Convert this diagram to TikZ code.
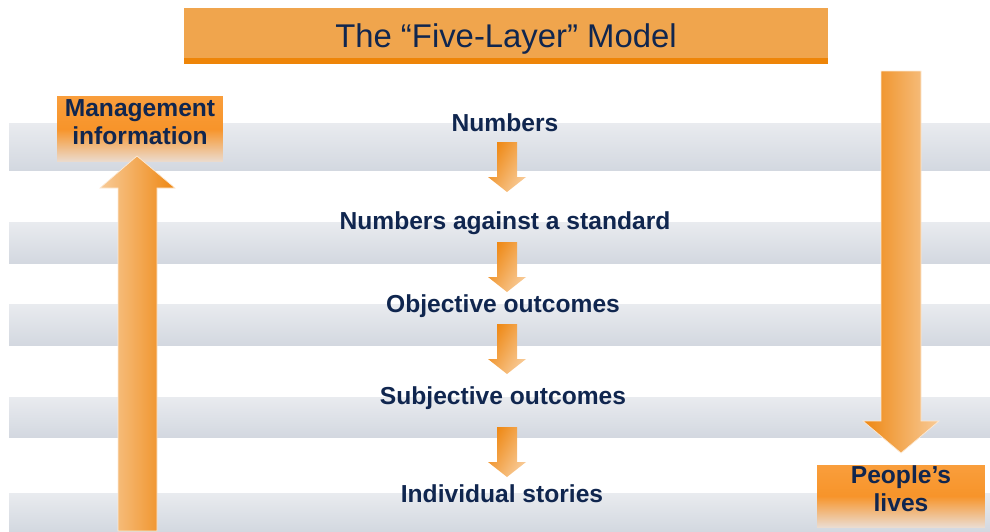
\documentclass[tikz,border=0pt]{standalone}
\usepackage{fontspec}
\setmainfont{Liberation Sans}
\usetikzlibrary{calc}
\definecolor{navy}{HTML}{10264F}
\definecolor{bandtop}{HTML}{E9EBEF}
\definecolor{bandbot}{HTML}{D3D8E0}
\definecolor{titlefill}{HTML}{F0A54D}
\definecolor{titleline}{HTML}{EE8508}
\definecolor{arrowdark}{HTML}{EE8712}
\definecolor{arrowlight}{HTML}{F8CB98}
\definecolor{boxtop}{HTML}{F99E3C}
\definecolor{boxmid}{HTML}{F7942A}
\definecolor{boxpale}{HTML}{EBDCD0}

\begin{document}
\begin{tikzpicture}[x=0.02cm,y=-0.02cm,
  band/.style={top color=bandtop,bottom color=bandbot},
  titlebar/.style={fill=titlefill,minimum width=12.88cm,minimum height=1cm,inner sep=0pt},
  titletext/.style={font=\fontsize{18.7}{22}\selectfont,text=navy,anchor=base,inner sep=0pt},
  layer/.style={font=\fontsize{14}{16}\selectfont\bfseries,text=navy,anchor=base,inner sep=0pt},
  infobox/.style={top color=boxtop,bottom color=boxpale,middle color=boxmid,inner sep=0pt},
  boxtext/.style={font=\fontsize{14}{16}\selectfont\bfseries,text=navy,align=center,inner sep=0pt},
  bigarrow/.style={draw=white!60!arrowlight,line width=0.4pt},
  layer arrow/.pic={
    \shade[top color=arrowdark,bottom color=arrowlight,shading angle=60]
      (-10,0) -- (10,0) -- (10,35) -- (19,35) -- (0,50) -- (-19,35) -- (-10,35) -- cycle;}]

  \useasboundingbox (0,0) rectangle (990,531);

  \shade[band] (9,123) rectangle (990,170);
  \shade[band] (9,222) rectangle (990,263);
  \shade[band] (9,304) rectangle (990,345);
  \shade[band] (9,397) rectangle (990,437);
  \shade[band] (9,493) rectangle (990,531);

  \node[titlebar] (title) at (506,33) {};
  \fill[titleline] (title.south west) rectangle ($(title.south east)+(0,6)$);
  \node[titletext] (titletxt) at (506,47) {The “Five-Layer” Model};

  \node[infobox,minimum width=3.32cm,minimum height=1.32cm] (mgmt) at (140,129) {};
  \node[infobox,minimum width=3.36cm,minimum height=1.24cm] (people) at (901,496) {};

  \shadedraw[bigarrow,left color=arrowlight,right color=arrowdark]
    (118,531) -- (118,188) -- (100,188) -- (137,156) -- (175,188) -- (157,188) -- (157,531) -- cycle;
  \shadedraw[bigarrow,left color=arrowdark,right color=arrowlight]
    (881,71) -- (921,71) -- (921,421) -- (939,421) -- (901,453) -- (863,421) -- (881,421) -- cycle;

  \node[boxtext] (mgmttxt) at (140,122) {Management\\information};
  \node[boxtext] (peopletxt) at (901,489) {People’s\\lives};

  \node[layer] (numbers) at (505,131) {Numbers};
  \node[layer] (standard) at (505,229) {Numbers against a standard};
  \node[layer] (objective) at (503,312) {Objective outcomes};
  \node[layer] (subjective) at (503,404) {Subjective outcomes};
  \node[layer] (stories) at (502,502) {Individual stories};

  \pic at (507,142) {layer arrow};
  \pic at (507,242) {layer arrow};
  \pic at (507,324) {layer arrow};
  \pic at (507,427) {layer arrow};
\end{tikzpicture}
\end{document}
